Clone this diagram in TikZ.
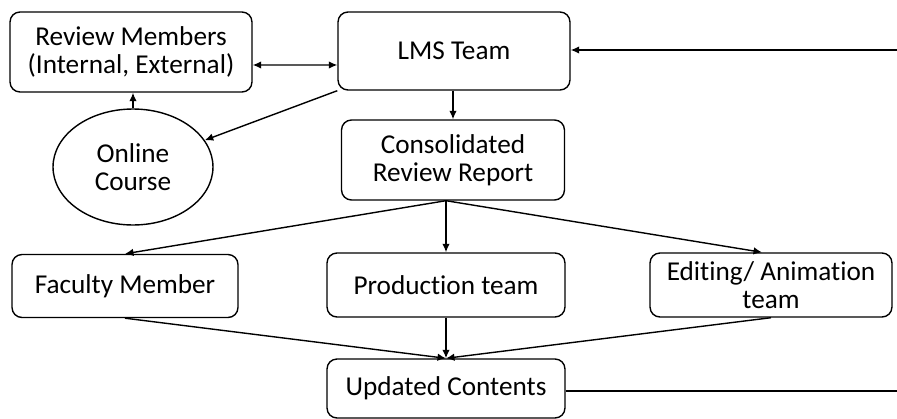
\documentclass[tikz,border=0pt]{standalone}
\usepackage{fontspec}
\setmainfont{Carlito}[Ligatures=NoCommon]
\usepackage{tikz}
\usetikzlibrary{shapes,arrows.meta}

\begin{document}
\begin{tikzpicture}[x=0.02cm,y=-0.02cm,>={Latex[length=1.7mm,width=1.5mm]}]
			\tikzstyle{box}=[rectangle,rounded corners=0.2cm,draw,line width=0.8pt,align=center,font=\fontsize{15.5}{15.8}\selectfont,inner sep=0pt]
			\tikzstyle{oval}=[ellipse,draw,line width=0.8pt,align=center,font=\fontsize{15.5}{15.8}\selectfont,inner sep=0pt]
			\tikzstyle{link}=[line width=0.8pt,->]
			
			\useasboundingbox (0,0) rectangle (897,419);
			
			\node [box,minimum width=4.84cm,minimum height=1.6cm] (rev) at (131,52) {Review Members\\(Internal, External)};
			\node [box,minimum width=4.64cm,minimum height=1.56cm] (lms) at (454,51) {LMS Team};
			\node [oval,minimum width=3.2cm,minimum height=2.32cm] (on) at (133,167) {Online\\Course};
			\node [box,minimum width=4.46cm,minimum height=1.6cm] (con) at (453,160) {Consolidated\\Review Report};
			\node [box,minimum width=4.52cm,minimum height=1.26cm] (fac) at (125,286) {Faculty Member};
			\node [box,minimum width=4.76cm,minimum height=1.28cm] (pro) at (446,285) {Production team};
			\node [box,minimum width=4.84cm,minimum height=1.28cm] (edi) at (771,285) {Editing/ Animation\\team};
			\node [box,minimum width=4.76cm,minimum height=1.18cm] (upd) at (446,388.5) {Updated Contents};
			\coordinate (r1) at (897,50);
			\coordinate (r2) at (897,391);
			
			\draw [link,<->] ([yshift=-0.26cm]rev.east) -- ([yshift=-0.28cm]lms.west);
			\draw [link] (on.north) -- (on.north |- rev.south);
			\draw [link] (lms.south west) -- (on);
			\draw [link] (con.north |- lms.south) -- (con.north);
			\draw [link] (r1) -- (lms.east |- r1);
			\draw [link] (con.south -| pro.north) -- (fac.north);
			\draw [link] (con.south -| pro.north) -- (pro.north);
			\draw [link] (con.south -| pro.north) -- ([xshift=-0.18cm]edi.north);
			\draw [link] (fac.south) -- (upd.north);
			\draw [link] (pro.south) -- (upd.north);
			\draw [link] (edi.south) -- (upd.north);
			\draw [line width=0.8pt] (upd.east |- r2) -- (r2);
\end{tikzpicture}
\end{document}
